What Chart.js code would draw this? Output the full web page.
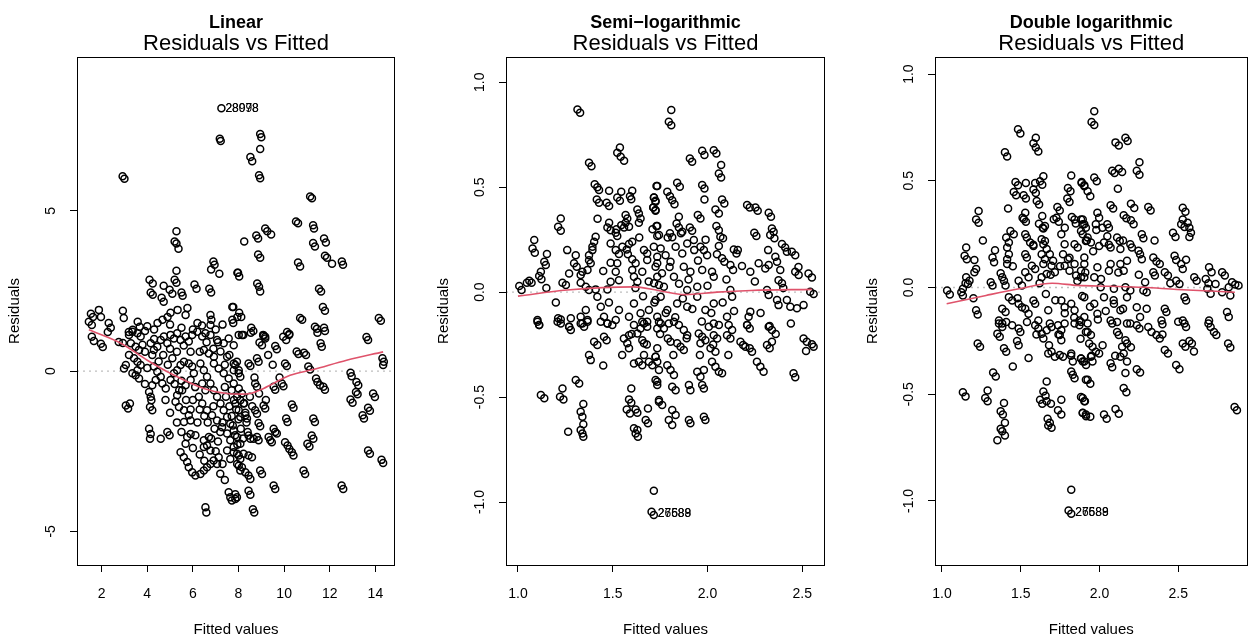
<!DOCTYPE html>
<html><head><meta charset="utf-8">
<script src="https://cdn.jsdelivr.net/npm/chart.js@4.4.0/dist/chart.umd.min.js"></script>
<style>
html,body{margin:0;padding:0;background:#fff;}
#wrap{position:relative;width:1253px;height:639px;overflow:hidden;background:#fff;}
canvas{position:absolute;left:0;top:0;}
</style></head><body><div id="wrap">
<canvas id="c1" width="1253" height="639"></canvas>
<canvas id="c2" width="1253" height="639"></canvas>
<canvas id="c3" width="1253" height="639"></canvas>
</div>
<script>
// ---------- DATA ----------
const panelTitles = ["Linear", "Semi\u2212logarithmic", "Double logarithmic"];
const subTitle = "Residuals vs Fitted";
const xAxisTitle = "Fitted values";
const yAxisTitle = "Residuals";

const linXTicks = [2,4,6,8,10,12,14];
const linXLabels = ["2","4","6","8","10","12","14"];
const linYTicks = [-5,0,5];
const linYLabels = ["-5","0","5"];
const semiXTicks = [1.0,1.5,2.0,2.5];
const semiXLabels = ["1.0","1.5","2.0","2.5"];
const semiYTicks = [-1.0,-0.5,0.0,0.5,1.0];
const semiYLabels = ["-1.0","-0.5","0.0","0.5","1.0"];
const dblXTicks = [1.0,1.5,2.0,2.5];
const dblXLabels = ["1.0","1.5","2.0","2.5"];
const dblYTicks = [-1.0,-0.5,0.0,0.5,1.0];
const dblYLabels = ["-1.0","-0.5","0.0","0.5","1.0"];

// fitted value / residual pairs
const linearPoints = [[7.25,8.2],[7.18,7.25],[7.22,7.18],[2.92,6.08],[3.0,6.0],[5.28,4.36],[5.2,4.04],[5.28,3.98],[5.37,3.82],[6.9,3.42],[6.95,3.32],[6.8,3.17],[7.16,3.04],[7.98,3.07],[5.28,3.13],[5.2,2.85],[5.28,2.76],[4.1,2.85],[4.24,2.73],[4.72,2.66],[4.98,2.54],[5.1,2.41],[5.5,2.45],[5.55,2.35],[4.15,2.45],[4.24,2.38],[6.07,2.7],[6.16,2.57],[6.72,2.57],[6.8,2.45],[4.63,2.29],[4.72,2.16],[7.73,2.0],[1.53,1.79],[1.62,1.69],[1.88,1.91],[1.97,1.69],[1.44,1.54],[1.57,1.44],[2.31,1.5],[2.4,1.35],[2.93,1.88],[2.97,1.66],[3.58,1.54],[3.67,1.38],[3.36,1.29],[3.19,1.22],[4.45,1.5],[4.67,1.6],[4.89,1.69],[5.02,1.82],[5.33,1.91],[5.76,1.97],[5.68,1.75],[6.77,1.75],[6.81,1.6],[6.77,1.44],[7.73,1.6],[7.95,1.69],
[8.95,7.4],[9.0,7.3],[8.95,6.93],[8.52,6.68],[8.6,6.55],[8.9,6.11],[8.95,6.02],[11.14,5.45],[11.22,5.39],[10.52,4.67],[10.61,4.61],[11.27,4.55],[11.31,4.45],[9.17,4.45],[9.26,4.36],[9.43,4.26],[8.78,4.23],[8.86,4.14],[8.25,4.04],[11.27,4.0],[11.35,3.89],[11.75,4.14],[11.83,4.01],[11.79,3.6],[11.88,3.54],[12.1,3.35],[12.53,3.42],[12.58,3.32],[8.86,3.64],[8.95,3.54],[10.61,3.39],[10.7,3.26],[7.95,3.07],[8.03,2.95],[8.82,2.73],[8.9,2.63],[8.95,2.48],[11.53,2.57],[11.62,2.48],[11.7,2.0],[11.79,1.88],[7.77,2.0],[8.03,1.82],[8.12,1.69],[7.77,1.5],[10.7,1.66],[10.79,1.6],[14.15,1.66],[14.24,1.57],[11.35,1.38],[11.44,1.32],[11.75,1.35],[11.79,1.25],[10.13,1.22],[10.22,1.13],[9.96,1.07],[8.56,1.35],[8.65,1.25],[9.08,1.13],[9.17,1.07],[8.21,1.13],
[1.57,1.07],[1.66,0.94],[1.97,0.85],[2.05,0.75],[2.27,1.22],[2.75,0.91],[2.93,0.88],[3.2,1.13],[3.35,1.23],[3.57,1.18],[3.71,1.08],[3.28,0.87],[3.49,0.76],[3.64,0.66],[3.79,0.82],[3.2,0.5],[3.42,0.4],[3.57,0.29],[3.71,0.19],[3.06,0.19],[2.98,0.08],[3.57,0.03],[3.49,-0.13],[3.64,-0.23],[3.35,-0.07],[3.06,-1.07],[3.16,-1.17],[3.24,-1.01],[4.08,-0.65],[4.15,-0.8],[4.18,-0.91],[4.12,-1.12],[4.22,-1.22],[4.08,-1.8],[4.15,-1.96],[4.12,-2.11],[4.59,-2.11],[4.88,-1.9],[4.98,-2.0],[5.46,-2.53],[5.6,-2.69],[5.75,-2.84],[5.82,-3.0],[5.97,-3.16],[6.11,-3.26],[6.33,-3.21],[6.48,-3.1],[6.62,-3.0],[6.77,-2.9],[6.91,-2.79],[7.06,-2.9],[7.13,-2.69],[6.77,-2.48],[5.75,-2.06],[5.9,-1.96],[6.11,-2.0],[5.68,-2.27],[6.48,-2.16],[6.62,-2.32],[6.48,-2.37],[6.7,-2.06],[7.57,-3.78],[7.64,-3.94],[7.86,-3.99],[6.55,-4.25],[6.59,-4.41],
[4.15,0.87],[4.29,0.66],[4.22,0.5],[4.44,0.76],[4.59,0.97],[4.73,1.08],[4.88,0.87],[5.02,1.13],[5.17,1.02],[5.31,1.18],[5.46,0.97],[5.68,1.08],[5.82,0.92],[5.97,1.13],[6.19,1.23],[6.41,1.08],[6.55,1.18],[6.77,1.13],[7.06,0.97],[7.35,0.87],[7.57,1.02],[7.79,0.81],[8.01,1.13],[4.29,0.14],[4.44,-0.02],[4.59,-0.18],[4.37,-0.28],[4.22,-0.44],[4.66,-0.39],[4.81,-0.54],[5.02,-0.28],[5.17,-0.07],[5.31,0.03],[5.46,0.19],[5.61,0.29],[5.82,0.24],[5.97,0.14],[6.04,-0.07],[5.9,-0.28],[5.68,-0.44],[5.53,-0.6],[5.31,-0.75],[5.24,-0.96],[5.39,-1.12],[5.61,-1.22],[5.82,-1.38],[5.9,-1.54],[5.61,-1.59],[6.33,0.24],[6.48,0.03],[6.62,-0.18],[6.77,-0.39],[6.92,-0.6],[7.06,-0.8],[7.21,-1.01],[7.35,-1.22],[7.5,-1.43],[7.64,-1.64],[7.79,-1.85],[7.94,-2.06],[8.08,-2.27],[6.41,-0.39],[6.55,-0.6],[6.26,-0.8],[6.41,-1.01],[6.62,-1.22],[6.84,-1.38],[7.06,-1.54],[7.28,-1.75],[7.5,-1.95],[7.64,-2.16],[7.79,-2.37],[7.94,-2.58],[7.5,-2.48],[7.64,-2.74],[7.94,-2.9],[8.08,-3.1],[6.92,0.24],[7.13,0.08],[7.35,-0.07],[7.57,-0.23],[7.79,-0.39],[8.01,-0.54],[7.94,-0.8],[7.86,-1.01],[8.01,-1.22],[8.08,-1.43],[6.48,0.66],[6.7,0.55],[6.92,0.45],[7.21,0.61],[7.5,0.45],[7.79,0.24],[8.01,0.03],
[4.0,1.4],[4.3,1.3],[5.0,1.45],[5.5,1.35],[6.0,1.3],[6.4,1.42],[7.0,1.3],[7.3,1.45],[3.9,1.25],[6.2,1.5],
[8.15,1.13],[8.54,1.2],[9.1,1.1],[9.17,1.02],[8.92,0.89],[9.03,0.81],[9.61,0.78],[9.68,0.68],[10.09,0.97],[10.23,1.16],[11.46,1.2],[11.6,0.87],[11.65,0.76],[13.61,1.06],[13.68,0.97],[8.44,0.24],[8.52,0.16],[8.81,0.4],[8.88,0.29],[7.93,0.29],[7.79,0.03],[8.01,-0.07],[8.08,-0.18],[7.86,0.19],[10.04,0.24],[10.12,0.16],[10.55,0.61],[10.63,0.53],[10.87,0.57],[10.96,0.5],[11.06,0.14],[11.14,0.05],[8.73,-0.39],[8.81,-0.49],[9.54,-0.49],[9.61,-0.58],[9.9,-0.39],[9.97,-0.47],[11.4,-0.23],[11.46,-0.34],[11.57,-0.44],[11.72,-0.49],[11.79,-0.58],[12.91,-0.05],[12.96,-0.16],[13.17,-0.34],[13.25,-0.44],[13.15,-0.65],[13.22,-0.72],[14.31,0.4],[14.37,0.29],[14.34,0.19],[13.9,-0.7],[13.98,-0.81],[12.91,-0.89],[13.0,-0.99],[13.68,-1.14],[13.76,-1.24],[13.44,-1.38],[13.5,-1.48],[10.34,-1.04],[10.41,-1.14],[9.1,-1.07],[9.17,-1.17],[8.73,-1.22],[8.81,-1.33],[8.3,-1.38],[8.37,-1.48],[8.08,-0.91],[8.22,-1.01],[10.09,-1.48],[10.15,-1.59],[11.28,-1.48],[11.35,-1.59],[8.88,-1.62],[8.95,-1.72],[9.54,-1.8],[9.61,-1.9],[9.68,-1.95],[9.32,-2.06],[9.39,-2.16],[9.46,-2.22],[10.04,-2.22],[10.15,-2.32],[10.23,-2.43],[10.34,-2.53],[10.41,-2.63],[11.21,-2.01],[11.28,-2.11],[11.02,-2.27],[11.11,-2.35],[8.44,-2.01],[8.52,-2.11],[8.66,-2.11],[8.81,-2.06],[8.88,-2.16],[8.22,-2.58],[8.44,-2.63],[8.59,-2.69],[8.01,-2.63],[8.08,-2.74],[7.79,-2.53],[13.68,-2.48],[13.76,-2.58],[14.27,-2.77],[14.34,-2.87],[8.95,-3.1],[9.03,-3.21],[10.85,-3.1],[10.92,-3.21],[8.01,-2.95],[8.15,-3.0],[8.3,-3.16],[8.44,-3.26],[8.52,-3.37],[9.54,-3.57],[9.61,-3.68],[12.52,-3.57],[12.59,-3.68],[8.44,-3.73],[8.52,-3.86],[7.86,-3.84],[7.93,-3.94],[7.71,-4.04],[8.63,-4.31],[8.69,-4.41],
[7.7,-0.6],[7.8,-0.9],[7.9,-1.2],[8.0,-1.5],[8.1,-1.8],[8.2,-2.1],[7.6,-1.1],[7.7,-1.4],[7.75,-1.7],[7.85,-2.0],[7.95,-2.3],[8.15,-0.7],[8.25,-1.0],[8.3,-1.3],[8.35,-1.6],[8.4,-1.9],[7.4,-0.5],[7.45,-0.8],[7.3,-1.6],[7.2,-1.9],[7.1,-2.2],[7.0,-2.5],[6.9,-1.1],[6.95,-1.8],[6.8,-2.1],[6.65,-1.6],[6.5,-1.4],[6.3,-1.2],[6.2,-1.6],[6.1,-0.5],[6.0,-0.9],[5.9,-1.2],[5.7,-0.9],[5.5,-0.3],[5.4,-0.6],[5.2,-0.4],[5.1,0.4],[4.9,0.2],[4.7,0.5],[4.5,0.3],[4.0,0.1],[3.9,-0.4],[4.8,-0.9],[5.0,-1.3],[5.3,-1.6],[5.5,-1.9],[6.3,-2.6],[6.5,-2.8],[6.0,-2.4],[7.3,-2.9],[7.2,-3.2],[7.4,-3.4],[8.5,-0.8],[8.6,-1.1],[8.7,-0.2],[8.9,-0.7],[9.2,-0.9],[9.3,0.5],[9.5,0.2],[9.8,-0.2],[6.9,0.7],[7.1,0.9],[7.4,0.2],[7.6,0.5],[6.6,0.9],[6.3,0.6],[5.9,0.6],[5.6,0.8],[5.3,0.6],[5.0,0.7],[4.3,1.0],[3.9,0.6]];

const semiPoints = [[1.314,0.870],[1.328,0.854],[1.538,0.689],[1.524,0.664],[1.542,0.645],[1.560,0.626],[1.375,0.616],[1.388,0.600],[1.405,0.514],[1.419,0.499],[1.428,0.486],[1.481,0.483],[1.416,0.441],[1.428,0.426],[1.468,0.426],[1.481,0.410],[1.524,0.451],[1.538,0.435],[1.545,0.478],[1.591,0.457],[1.603,0.483],[1.598,0.442],[1.731,0.505],[1.717,0.451],[1.726,0.435],[1.714,0.403],[1.726,0.387],[1.630,0.394],[1.638,0.375],[1.647,0.351],[1.638,0.330],[1.568,0.367],[1.577,0.351],[1.481,0.330],[1.472,0.308],[1.489,0.295],[1.516,0.283],[1.524,0.267],[1.545,0.319],[1.560,0.308],[1.586,0.311],[1.568,0.330],[1.731,0.315],[1.735,0.267],[1.226,0.351],[1.212,0.311],[1.226,0.292],[1.086,0.248],[1.077,0.208],[1.089,0.187],[1.153,0.181],[1.139,0.145],[1.147,0.129],[1.121,0.097],[1.112,0.077],[1.124,0.061],[1.060,0.054],[1.072,0.045],[1.047,0.045],[1.007,0.029],[1.019,0.010],[1.235,0.045],[1.253,0.034],[1.270,0.089],[1.305,0.176],[1.296,0.137],[1.310,0.121],[1.331,0.081],[1.340,0.097],[1.367,0.105],[1.384,0.137],[1.375,0.176],[1.393,0.200],[1.402,0.240],[1.410,0.264],[1.393,0.216],[1.375,0.152],[1.331,0.045],[1.358,0.026],[1.375,0.010],[1.410,0.013],[1.489,0.232],[1.516,0.200],[1.533,0.181],[1.551,0.216],[1.574,0.203],[1.586,0.229],[1.603,0.240],[1.489,0.140],[1.524,0.137],[1.516,0.097],[1.533,0.057],[1.489,0.049],[1.472,0.013],[1.603,0.156],[1.621,0.137],[1.603,0.105],[1.612,0.073],[1.630,0.049],[1.656,0.097],[1.682,0.184],[1.665,0.200],[1.682,0.153],[1.717,0.216],[1.735,0.168],[1.726,0.121],[1.735,0.073],[1.744,0.034],[1.103,-0.133],[1.112,-0.157],[1.212,-0.125],[1.226,-0.130],[1.279,-0.125],[1.270,-0.165],[1.331,-0.117],[1.340,-0.149],[1.358,-0.085],[1.367,-0.133],[1.419,-0.022],[1.437,-0.070],[1.454,-0.117],[1.472,-0.149],[1.516,-0.133],[1.533,-0.085],[1.586,-0.117],[1.612,-0.054],[1.647,-0.101],[1.665,-0.149],[1.691,-0.085],[1.735,-0.117],[1.726,-0.038],
[1.809,0.867],[1.796,0.811],[1.809,0.795],[1.972,0.673],[1.984,0.653],[2.033,0.676],[2.047,0.660],[1.907,0.637],[1.919,0.621],[2.072,0.605],[2.060,0.565],[2.072,0.546],[1.735,0.505],[1.840,0.521],[1.854,0.502],[1.972,0.510],[1.984,0.494],[1.984,0.441],[2.077,0.441],[2.089,0.422],[1.788,0.478],[1.802,0.457],[1.814,0.438],[1.826,0.419],[1.718,0.451],[1.726,0.430],[1.714,0.403],[1.726,0.391],[2.209,0.415],[2.223,0.403],[2.253,0.403],[2.265,0.387],[2.323,0.378],[2.335,0.359],[2.340,0.303],[2.349,0.288],[2.331,0.272],[2.353,0.256],[2.247,0.283],[2.258,0.267],[2.393,0.229],[2.410,0.213],[2.419,0.192],[2.445,0.192],[2.463,0.176],[2.042,0.394],[2.060,0.375],[1.949,0.367],[1.963,0.351],[1.849,0.359],[1.837,0.327],[1.849,0.308],[1.867,0.287],[1.735,0.315],[1.744,0.272],[1.802,0.280],[1.814,0.261],[2.047,0.315],[2.060,0.295],[2.068,0.264],[2.082,0.256],[1.907,0.308],[1.919,0.292],[2.139,0.203],[2.153,0.184],[2.077,0.161],[2.089,0.145],[2.121,0.129],[2.135,0.105],[2.182,0.124],[2.226,0.097],[2.270,0.137],[2.305,0.113],[2.323,0.129],[2.358,0.168],[2.367,0.145],[2.384,0.105],[2.375,0.057],[2.393,0.042],[2.463,0.097],[2.481,0.081],[2.533,0.089],[2.551,0.070],[2.542,0.002],[2.560,-0.009],[1.981,0.200],[1.998,0.176],[1.963,0.216],[1.928,0.248],[1.893,0.232],[1.867,0.184],[1.832,0.216],[1.779,0.176],[1.753,0.208],[1.735,0.137],[1.805,0.145],[1.875,0.121],[1.910,0.097],[1.972,0.105],[2.024,0.097],[2.033,0.073],[1.946,0.026],[1.893,0.010],[1.823,0.073],[1.770,0.026],[1.718,0.042],[2.121,0.010],[2.130,-0.022],[2.226,-0.093],[2.217,-0.117],[2.314,0.010],[2.323,-0.014],[2.367,-0.038],[2.375,-0.062],[2.419,-0.038],[2.437,-0.070],[2.472,-0.077],[2.507,-0.062],[2.103,-0.117],[2.033,-0.054],[1.989,-0.085],[1.946,-0.022],[1.893,-0.070],[1.840,-0.054],[1.788,-0.085],[1.753,-0.022],[2.323,-0.165],[2.209,-0.157],
[1.103,-0.141],[1.112,-0.157],[1.209,-0.141],[1.226,-0.149],[1.270,-0.165],[1.279,-0.181],[1.331,-0.149],[1.349,-0.165],[1.367,-0.141],[1.437,-0.141],[1.472,-0.149],[1.498,-0.157],[1.612,-0.157],[1.647,-0.173],[1.682,-0.165],[1.656,-0.141],[1.682,-0.141],[1.735,-0.173],[1.744,-0.141],[1.402,-0.236],[1.419,-0.252],[1.454,-0.213],[1.468,-0.229],[1.375,-0.300],[1.384,-0.324],[1.559,-0.221],[1.577,-0.244],[1.586,-0.268],[1.586,-0.205],[1.630,-0.197],[1.656,-0.229],[1.665,-0.244],[1.612,-0.340],[1.638,-0.332],[1.656,-0.348],[1.691,-0.332],[1.709,-0.348],[1.665,-0.300],[1.726,-0.308],[1.735,-0.268],[1.744,-0.371],[1.735,-0.427],[1.305,-0.419],[1.323,-0.435],[1.235,-0.459],[1.222,-0.498],[1.240,-0.511],[1.121,-0.490],[1.139,-0.506],[1.345,-0.533],[1.331,-0.570],[1.340,-0.594],[1.345,-0.629],[1.331,-0.657],[1.340,-0.673],[1.345,-0.689],[1.265,-0.665],[1.598,-0.459],[1.586,-0.511],[1.598,-0.527],[1.574,-0.559],[1.591,-0.578],[1.621,-0.559],[1.630,-0.575],[1.686,-0.554],[1.674,-0.609],[1.686,-0.625],[1.612,-0.649],[1.630,-0.657],[1.621,-0.673],[1.633,-0.689],[1.744,-0.522],[1.717,-0.946],[1.705,-1.046],[1.717,-1.062],
[1.753,-0.149],[1.770,-0.173],[1.796,-0.149],[1.823,-0.141],[1.849,-0.157],[1.875,-0.181],[1.893,-0.205],[1.954,-0.197],[1.972,-0.213],[2.007,-0.165],[2.033,-0.149],[2.060,-0.157],[2.112,-0.157],[2.130,-0.181],[2.209,-0.157],[2.223,-0.173],[2.328,-0.162],[2.340,-0.181],[2.033,-0.205],[2.051,-0.221],[2.103,-0.205],[2.121,-0.221],[2.174,-0.236],[2.188,-0.252],[2.223,-0.268],[2.235,-0.284],[2.314,-0.252],[2.328,-0.268],[2.340,-0.236],[2.507,-0.221],[2.524,-0.236],[2.551,-0.248],[1.791,-0.221],[1.805,-0.236],[1.840,-0.244],[1.858,-0.260],[1.875,-0.276],[1.963,-0.244],[1.989,-0.229],[2.016,-0.268],[2.042,-0.284],[2.261,-0.332],[2.279,-0.355],[2.296,-0.379],[2.454,-0.387],[2.463,-0.406],[1.726,-0.308],[1.735,-0.332],[1.788,-0.348],[1.805,-0.371],[1.823,-0.395],[1.726,-0.419],[1.735,-0.443],[1.814,-0.451],[1.832,-0.467],[1.902,-0.443],[1.910,-0.467],[1.946,-0.379],[1.963,-0.403],[1.981,-0.371],[1.972,-0.443],[1.981,-0.459],[2.024,-0.332],[2.042,-0.355],[2.060,-0.379],[2.077,-0.387],[1.744,-0.514],[1.761,-0.538],[1.814,-0.562],[1.832,-0.586],[1.796,-0.609],[1.814,-0.633],[1.902,-0.609],[1.910,-0.625],[1.981,-0.594],[1.989,-0.609],
[1.62,0.02],[1.66,-0.02],[1.69,0.05],[1.72,-0.05],[1.76,0.09],[1.78,-0.1],[1.8,0.12],[1.83,-0.12],[1.85,0.04],[1.87,-0.03],[1.9,0.06],[1.92,-0.08],[1.95,0.15],[1.97,-0.14],[2.0,0.03],[2.02,-0.1],[2.05,0.18],[2.08,-0.05],[2.1,0.06],[2.14,-0.09],[1.58,0.18],[1.6,-0.2],[1.64,0.26],[1.68,-0.25],[1.71,0.3],[1.75,-0.2],[1.79,0.26],[1.82,-0.3],[1.86,0.28],[1.89,-0.22],[1.93,0.2],[1.96,-0.3],[1.99,0.25],[2.03,-0.25],[2.06,0.22],[2.11,-0.3],[2.16,0.2],[2.2,-0.26],[2.25,0.05],[2.28,-0.1],[2.32,0.2],[2.36,-0.2],[2.4,0.02],[2.44,-0.15],[2.48,0.12],[2.52,-0.28],[1.45,0.1],[1.48,-0.05],[1.52,0.3],[1.55,-0.3],[1.42,0.35],[1.45,-0.35],[1.26,0.2],[1.2,-0.05],[1.15,0.02],[2.56,-0.26]];

const doublePoints = [[1.483,0.742],[1.498,0.722],[1.596,0.702],[1.581,0.676],[1.596,0.656],[1.612,0.637],[1.400,0.634],[1.414,0.614],[1.821,0.525],[1.644,0.521],[1.623,0.498],[1.637,0.482],[1.592,0.490],[1.581,0.459],[1.596,0.443],[1.467,0.494],[1.483,0.479],[1.533,0.490],[1.456,0.448],[1.471,0.432],[1.519,0.432],[1.533,0.417],[1.887,0.494],[1.904,0.479],[1.800,0.466],[1.816,0.451],[1.796,0.417],[1.810,0.401],[1.602,0.405],[1.617,0.389],[1.733,0.377],[1.748,0.361],[1.727,0.327],[1.742,0.308],[1.529,0.350],[1.512,0.327],[1.533,0.308],[1.637,0.335],[1.616,0.299],[1.654,0.288],[1.644,0.277],[1.825,0.330],[1.842,0.319],[1.883,0.319],[1.894,0.296],[1.914,0.280],[1.233,0.358],[1.217,0.319],[1.233,0.304],[1.435,0.265],[1.456,0.250],[1.408,0.234],[1.425,0.211],[1.414,0.188],[1.425,0.156],[1.414,0.133],[1.414,0.110],[1.529,0.250],[1.539,0.234],[1.560,0.211],[1.581,0.195],[1.529,0.156],[1.539,0.141],[1.633,0.226],[1.654,0.218],[1.644,0.203],[1.665,0.180],[1.633,0.156],[1.685,0.156],[1.654,0.133],[1.706,0.125],[1.644,0.110],[1.696,0.102],[1.717,0.071],[1.665,0.063],[1.633,0.048],[1.758,0.250],[1.779,0.203],[1.769,0.156],[1.800,0.133],[1.779,0.102],[1.810,0.079],[1.842,0.110],[1.842,0.203],[1.862,0.188],[1.894,0.250],[1.914,0.218],[1.904,0.141],[1.883,0.079],[1.904,0.048],[1.852,0.056],[1.154,0.188],[1.144,0.149],[1.158,0.133],[1.206,0.129],[1.217,0.087],[1.206,0.071],[1.154,0.048],[1.175,0.032],[1.165,0.017],[1.133,-0.006],[1.321,0.141],[1.331,0.118],[1.310,0.025],[1.321,0.009],[1.373,0.067],[1.383,0.048],[1.394,0.032],[1.404,0.009],[1.337,0.175],[1.529,0.071],[1.550,0.048],[1.487,0.032],[1.508,0.009],[1.571,0.102],[1.592,0.087],[1.033,-0.014],[1.050,-0.033],[1.123,-0.022],[1.133,-0.037],[1.217,-0.107],[1.227,-0.126],[1.425,-0.045],[1.446,-0.061],[1.383,-0.099],[1.404,-0.115],[1.487,-0.076],[1.508,-0.092],[1.529,-0.099],[1.550,-0.123],[1.581,-0.061],[1.592,-0.076],[1.612,-0.154],[1.675,-0.107],[1.685,-0.169],[1.758,-0.061],[1.779,-0.092],[1.821,-0.076],[1.842,-0.107],[1.873,-0.154],[1.904,-0.138],[1.779,-0.169],[1.362,-0.154],[1.383,-0.169],
[1.967,0.826],[1.950,0.776],[1.967,0.761],[2.165,0.702],[2.179,0.687],[2.102,0.680],[2.123,0.665],[2.254,0.587],[2.237,0.547],[2.254,0.528],[2.081,0.547],[2.096,0.536],[2.123,0.556],[2.144,0.541],[2.117,0.463],[1.967,0.516],[1.983,0.498],[1.887,0.490],[1.904,0.474],[1.925,0.451],[1.942,0.428],[2.200,0.392],[2.221,0.373],[2.071,0.386],[2.087,0.370],[2.310,0.377],[2.325,0.361],[2.529,0.374],[2.546,0.355],[2.529,0.319],[2.519,0.296],[2.540,0.284],[2.560,0.304],[2.571,0.280],[2.581,0.257],[2.571,0.237],[2.467,0.257],[2.483,0.237],[2.154,0.339],[2.171,0.324],[2.200,0.315],[2.217,0.296],[2.269,0.250],[2.279,0.231],[1.987,0.350],[1.998,0.327],[1.977,0.296],[2.019,0.280],[2.050,0.296],[2.060,0.280],[2.112,0.234],[2.129,0.218],[2.133,0.180],[2.196,0.203],[2.206,0.188],[2.248,0.172],[2.258,0.156],[2.269,0.133],[1.894,0.319],[1.904,0.296],[1.883,0.265],[1.925,0.234],[1.946,0.211],[1.998,0.195],[2.029,0.211],[2.071,0.188],[2.342,0.141],[2.362,0.122],[2.383,0.110],[2.415,0.071],[2.435,0.056],[2.477,0.149],[2.487,0.129],[2.519,0.110],[2.529,0.087],[2.487,0.032],[2.508,0.017],[2.342,0.071],[2.352,0.056],[2.696,0.095],[2.712,0.071],[2.779,0.071],[2.796,0.056],[2.602,0.048],[2.617,0.032],[2.675,0.040],[2.692,0.020],[2.737,0.017],[2.842,0.025],[2.862,0.014],[2.883,0.009],[2.821,0.001],[2.779,-0.022],[2.831,-0.037],[2.706,-0.029],[2.685,-0.006],[2.133,0.110],[2.154,0.079],[2.175,0.125],[2.165,0.001],[2.196,-0.014],[2.071,0.110],[2.060,0.079],[1.987,0.095],[1.967,0.048],[1.904,0.110],[1.883,0.048],[2.008,0.001],[2.092,-0.006],[2.290,0.025],[2.300,-0.022],[2.279,-0.014],[2.540,-0.045],[2.550,-0.061],[2.415,-0.099],[2.425,-0.115],[2.810,-0.115],[2.821,-0.138],[2.529,-0.154],[2.696,-0.154],[2.394,-0.154],[1.904,-0.045],[1.967,-0.076],[2.029,-0.045],[2.092,-0.076],[2.133,-0.107],[2.175,-0.045],[2.237,-0.092],[2.071,-0.154],[1.987,-0.123],[1.925,-0.169],[2.175,-0.169],[2.258,-0.138],
[1.362,-0.169],[1.383,-0.185],[1.408,-0.161],[1.446,-0.177],[1.487,-0.192],[1.498,-0.208],[1.540,-0.161],[1.592,-0.177],[1.612,-0.192],[1.633,-0.216],[1.644,-0.239],[1.665,-0.200],[1.696,-0.185],[1.737,-0.177],[1.758,-0.200],[1.748,-0.223],[1.758,-0.247],[1.842,-0.169],[1.873,-0.177],[1.914,-0.208],[1.352,-0.216],[1.367,-0.231],[1.227,-0.262],[1.242,-0.277],[1.394,-0.285],[1.408,-0.301],[1.477,-0.250],[1.487,-0.270],[1.675,-0.309],[1.696,-0.301],[1.717,-0.324],[1.748,-0.316],[1.769,-0.324],[1.821,-0.309],[1.831,-0.347],[1.883,-0.332],[1.904,-0.347],[1.821,-0.394],[1.831,-0.409],[1.842,-0.425],[1.914,-0.432],[1.325,-0.398],[1.342,-0.417],[1.665,-0.440],[1.290,-0.482],[1.275,-0.518],[1.290,-0.533],[1.133,-0.491],[1.150,-0.510],[1.644,-0.487],[1.658,-0.507],[1.623,-0.526],[1.637,-0.544],[1.665,-0.533],[1.692,-0.544],[1.758,-0.526],[1.737,-0.575],[1.758,-0.595],[1.883,-0.513],[1.904,-0.533],[1.894,-0.587],[1.914,-0.595],[1.394,-0.541],[1.373,-0.580],[1.387,-0.595],[1.400,-0.634],[1.373,-0.662],[1.383,-0.673],[1.400,-0.693],[1.352,-0.715],[1.671,-0.615],[1.685,-0.634],[1.675,-0.646],[1.696,-0.657],[1.821,-0.947],[1.804,-1.045],[1.821,-1.060],
[1.883,-0.161],[1.925,-0.208],[1.946,-0.223],[1.935,-0.262],[1.956,-0.278],[1.977,-0.301],[1.998,-0.309],[1.946,-0.324],[1.956,-0.347],[1.883,-0.332],[1.894,-0.347],[1.915,-0.363],[1.925,-0.432],[1.942,-0.451],[1.894,-0.518],[1.908,-0.533],[1.894,-0.588],[1.915,-0.603],[1.942,-0.606],[2.029,-0.595],[2.046,-0.615],[2.102,-0.569],[2.123,-0.591],[2.071,-0.355],[2.081,-0.374],[2.133,-0.324],[2.154,-0.309],[2.175,-0.347],[2.144,-0.278],[2.165,-0.247],[2.175,-0.262],[2.112,-0.208],[2.123,-0.223],[2.081,-0.169],[2.112,-0.161],[2.165,-0.401],[2.154,-0.471],[2.171,-0.491],[2.237,-0.383],[2.258,-0.398],[2.196,-0.169],[2.237,-0.177],[2.254,-0.192],[2.310,-0.185],[2.331,-0.208],[2.362,-0.223],[2.383,-0.239],[2.400,-0.172],[2.415,-0.293],[2.435,-0.309],[2.487,-0.363],[2.508,-0.383],[2.529,-0.262],[2.546,-0.278],[2.571,-0.250],[2.587,-0.262],[2.540,-0.169],[2.550,-0.185],[2.692,-0.169],[2.706,-0.185],[2.727,-0.208],[2.742,-0.223],[2.817,-0.262],[2.831,-0.281],[2.858,-0.560],[2.873,-0.575],
[1.62,0.02],[1.66,-0.03],[1.69,0.06],[1.72,-0.06],[1.75,0.1],[1.78,-0.12],[1.81,0.14],[1.84,-0.14],[1.86,0.03],[1.89,-0.04],[1.91,0.07],[1.94,-0.09],[1.96,0.17],[1.99,-0.15],[2.01,0.04],[2.04,-0.11],[2.06,0.2],[2.09,-0.06],[2.12,0.07],[2.15,-0.1],[1.58,0.2],[1.6,-0.22],[1.64,0.28],[1.68,-0.27],[1.71,0.32],[1.74,-0.22],[1.78,0.28],[1.82,-0.32],[1.85,0.3],[1.88,-0.24],[1.92,0.22],[1.95,-0.32],[1.98,0.27],[2.02,-0.27],[2.05,0.24],[2.1,-0.32],[2.15,0.22],[2.2,-0.28],[2.25,0.06],[2.3,-0.1],[2.35,0.22],[2.4,-0.22],[2.45,0.02],[2.5,-0.16],[2.55,0.13],[2.6,-0.3],[1.45,0.1],[1.48,-0.05],[1.52,0.32],[1.55,-0.33],[1.42,0.37],[1.45,-0.37],[1.26,0.22],[1.2,-0.05],[1.15,0.02]];

// smoother (red) lines
const linSmoothX = [1.44,2.84,4.0,5.02,6.48,7.5,8.1,8.52,9.1,10.26,11.28,12.74,14.34];
const linSmoothY = [1.29,0.87,0.34,-0.07,-0.54,-0.70,-0.72,-0.70,-0.54,-0.13,0.05,0.34,0.60];
const semiSmoothX = [1.0,1.26,1.61,1.74,1.88,2.05,2.23,2.55];
const semiSmoothY = [-0.019,0.010,0.025,0.008,-0.012,0.0,0.008,0.013];
const dblSmoothX = [1.03,1.28,1.49,1.7,1.86,2.07,2.28,2.49,2.86];
const dblSmoothY = [-0.076,-0.037,-0.006,0.020,0.010,0.006,0.001,-0.009,-0.022];

// labelled observations
const linOutlierLabels = ["28078","28998"];
const semiOutlierLabels = ["26589","27688"];
const dblOutlierLabels = ["26589","27688"];

// ---------- RENDER ----------
const FONT = "'Liberation Sans', Arial, Helvetica, sans-serif";

const rDeco = {
  id: 'rdeco',
  afterDraw(chart, args, o) {
    const ctx = chart.ctx, a = chart.chartArea, xs = chart.scales.x, ys = chart.scales.y;
    ctx.save();
    ctx.strokeStyle = '#000'; ctx.lineWidth = 1;
    ctx.strokeRect(Math.round(a.left) + 0.5, Math.round(a.top) + 0.5,
      Math.round(a.right - a.left) - 1, Math.round(a.bottom - a.top));
    ctx.fillStyle = '#000';
    ctx.font = '14px ' + FONT;
    ctx.textAlign = 'center'; ctx.textBaseline = 'middle';
    ys.ticks.forEach((t, i) => {
      const y = ys.getPixelForValue(t.value);
      ctx.save();
      ctx.translate(a.left - 26, y);
      ctx.rotate(-Math.PI / 2);
      ctx.fillText(o.yLabels[i], 0, 0);
      ctx.restore();
    });
    const cx = (a.left + a.right) / 2;
    ctx.font = 'bold 18px ' + FONT;
    ctx.fillText(o.title, cx, 23);
    ctx.font = '22px ' + FONT;
    ctx.fillText(o.sub, cx, 44);
    ctx.font = '15px ' + FONT;
    ctx.fillText(xAxisTitle, cx, 630);
    ctx.save();
    ctx.translate(a.left - 62, (a.top + a.bottom) / 2);
    ctx.rotate(-Math.PI / 2);
    ctx.fillText(yAxisTitle, 0, 0);
    ctx.restore();
    ctx.font = '12px ' + FONT;
    ctx.textAlign = 'left';
    const px = xs.getPixelForValue(o.idAt[0]) + 4, py = ys.getPixelForValue(o.idAt[1]);
    o.idLabels.forEach(s => ctx.fillText(s, px, py));
    ctx.restore();
  }
};

function makePanel(id, pts, sx, sy, xr, yr, xTicks, xLabels, yTicks, yLabels, area, title, idLabels, idAt) {
  const W = 1253, H = 639, yW = 30, xH = 45;
  const scatter = pts.map(p => ({x: p[0], y: p[1]}));
  const smooth = sx.map((v, i) => ({x: v, y: sy[i]}));
  const zero = [{x: xr[0], y: 0}, {x: xr[1], y: 0}];
  new Chart(document.getElementById(id), {
    type: 'scatter',
    data: { datasets: [
      { type: 'line', data: zero, borderColor: '#bebebe', borderWidth: 1.3, borderDash: [2, 4],
        pointRadius: 0, fill: false, order: 3 },
      { data: scatter, pointStyle: 'circle', pointRadius: 3.5, borderWidth: 1.5,
        borderColor: '#000', backgroundColor: 'rgba(0,0,0,0)', order: 2 },
      { type: 'line', data: smooth, borderColor: '#DF536B', borderWidth: 1.6, pointRadius: 0,
        fill: false, cubicInterpolationMode: 'monotone', order: 1 }
    ]},
    options: {
      responsive: false, animation: false, events: [],
      layout: { padding: { left: area[0] - yW, right: W - area[1], top: area[2], bottom: H - area[3] - xH } },
      plugins: {
        legend: { display: false }, tooltip: { enabled: false },
        rdeco: { yLabels: yLabels, title: title, sub: subTitle, idLabels: idLabels, idAt: idAt }
      },
      scales: {
        x: { type: 'linear', min: xr[0], max: xr[1],
          afterBuildTicks: s => { s.ticks = xTicks.map(v => ({value: v})); },
          afterFit: s => { s.height = xH; },
          ticks: { color: '#000', font: { family: FONT, size: 14 }, padding: 14, maxRotation: 0,
            callback: (v, i) => xLabels[i] },
          grid: { drawOnChartArea: false, drawTicks: true, tickLength: 7, tickColor: '#000', tickWidth: 1 },
          border: { display: false } },
        y: { type: 'linear', min: yr[0], max: yr[1],
          afterBuildTicks: s => { s.ticks = yTicks.map(v => ({value: v})); },
          afterFit: s => { s.width = yW; },
          ticks: { display: false },
          grid: { drawOnChartArea: false, drawTicks: true, tickLength: 7, tickColor: '#000', tickWidth: 1 },
          border: { display: false } }
      }
    },
    plugins: [rDeco]
  });
}

makePanel('c1', linearPoints, linSmoothX, linSmoothY, [0.92, 14.86], [-6.05, 9.8],
  linXTicks, linXLabels, linYTicks, linYLabels, [77, 395, 57, 565], panelTitles[0], linOutlierLabels, [7.25, 8.2]);
makePanel('c2', semiPoints, semiSmoothX, semiSmoothY, [0.937, 2.62], [-1.30, 1.12],
  semiXTicks, semiXLabels, semiYTicks, semiYLabels, [506, 825, 57, 565], panelTitles[1], semiOutlierLabels, [1.717, -1.055]);
makePanel('c3', doublePoints, dblSmoothX, dblSmoothY, [0.956, 2.94], [-1.30, 1.08],
  dblXTicks, dblXLabels, dblYTicks, dblYLabels, [935, 1253, 57, 565], panelTitles[2], dblOutlierLabels, [1.821, -1.055]);
</script>
</body></html>
